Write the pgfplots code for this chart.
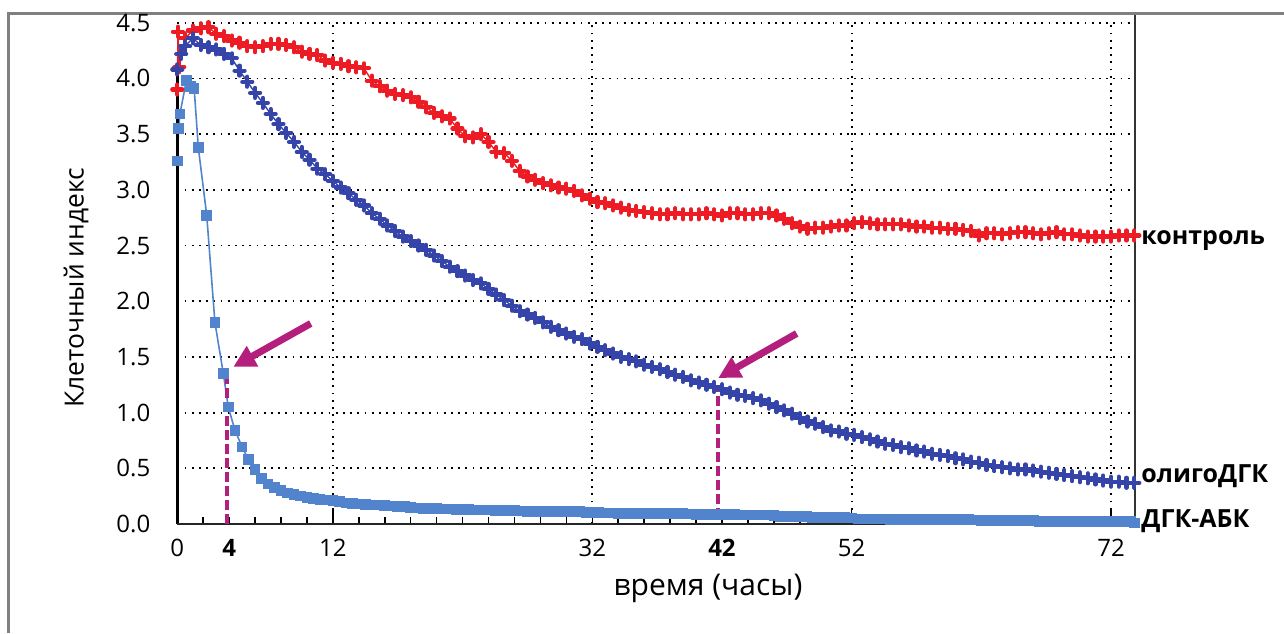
\documentclass[border=0pt]{standalone}
\usepackage{fontspec}
\setmainfont{Open Sans}
\usepackage{pgfplots}
\pgfplotsset{compat=1.18}
\usetikzlibrary{arrows.meta}

\definecolor{ctrl}{RGB}{237,28,36}
\definecolor{oligo}{RGB}{52,68,168}
\definecolor{dgk}{RGB}{82,132,206}
\definecolor{mag}{RGB}{180,30,125}
\definecolor{frame}{RGB}{128,128,128}

\begin{document}
\begin{tikzpicture}[x=1pt,y=1pt]
\useasboundingbox (0,0) rectangle (642,316.5);
% outer frame (cut at right and bottom)
\draw[frame, line width=1.2pt] (4.2,0) -- (4.2,309.8) -- (642,309.8);

\begin{axis}[
  at={(88.65pt,54.5pt)}, anchor=south west,
  scale only axis, width=478.85pt, height=250.65pt,
  xmin=0, xmax=73.85, ymin=0, ymax=4.5,
  clip=false,
  axis line style={draw=none},
  xtick={12,32,52,72},
  minor xtick={0,2,...,74},
  extra x ticks={0,4,42},
  extra x tick labels={0,\textbf{4},\textbf{42}},
  extra x tick style={grid=none, major tick length=0pt},
  ytick={0,0.5,...,4.5},
  /pgf/number format/assume math mode=true,
  tick label style={font=\fontsize{12}{14}\selectfont},
  yticklabel style={/pgf/number format/fixed, /pgf/number format/fixed zerofill,
    /pgf/number format/precision=1, xshift=-10pt},
  xticklabel style={yshift=-4pt},
  ytick style={draw=none},
  xtick style={black, line width=0.75pt},
  tick align=inside, xtick pos=bottom,
  major tick length=7.5pt, minor tick length=3.5pt,
  grid=major,
  major grid style={black, line width=0.9pt, dash pattern=on 0.9pt off 2.7pt},
]

% контроль
\addplot[ctrl, line width=0.7pt, mark=+, mark size=2.5pt,
  mark options={line width=2.1pt, line cap=round}] table {
0 3.9
0.05 4.42
0.15 4.10
0.6 4.36
1.2 4.43
1.8 4.45
2.4 4.46
3.0 4.40
3.6 4.38
4.2 4.34
4.8 4.32
5.4 4.29
6.0 4.28
6.6 4.29
7.2 4.31
7.8 4.31
8.4 4.30
9.0 4.28
9.6 4.24
10.2 4.22
10.8 4.21
11.4 4.16
12.0 4.14
12.6 4.13
13.2 4.11
13.8 4.10
14.4 4.09
15.0 3.98
15.6 3.93
16.2 3.89
16.8 3.86
17.4 3.85
18.0 3.83
18.6 3.79
19.2 3.74
19.8 3.69
20.4 3.66
21.0 3.64
21.6 3.55
22.2 3.48
22.8 3.47
23.4 3.50
24.0 3.43
24.6 3.34
25.2 3.33
25.8 3.26
26.4 3.17
27.0 3.12
27.6 3.09
28.2 3.06
28.8 3.04
29.4 3.02
30.0 3.01
30.6 2.99
31.2 2.95
31.8 2.92
32.4 2.89
33.0 2.88
33.6 2.86
34.2 2.84
34.8 2.82
35.4 2.81
36.0 2.80
36.6 2.79
37.2 2.78
37.8 2.78
38.4 2.79
39.0 2.78
39.6 2.78
40.2 2.78
40.8 2.79
41.4 2.78
42.0 2.77
42.6 2.79
43.2 2.79
43.8 2.78
44.4 2.78
45.0 2.79
45.6 2.79
46.2 2.77
46.8 2.74
47.4 2.70
48.0 2.67
48.6 2.65
49.2 2.66
49.8 2.66
50.4 2.67
51.0 2.68
51.6 2.68
52.2 2.70
52.8 2.71
53.4 2.70
54.0 2.69
54.6 2.69
55.2 2.69
55.8 2.69
56.4 2.68
57.0 2.67
57.6 2.67
58.2 2.66
58.8 2.66
59.4 2.65
60.0 2.65
60.6 2.64
61.2 2.63
61.8 2.59
62.4 2.61
63.0 2.61
63.6 2.60
64.2 2.61
64.8 2.62
65.4 2.62
66.0 2.61
66.6 2.60
67.2 2.61
67.8 2.62
68.4 2.60
69.0 2.60
69.6 2.59
70.2 2.58
70.8 2.58
71.4 2.58
72.0 2.58
72.6 2.59
73.2 2.59
73.8 2.59
};

% олигоДГК
\addplot[oligo, line width=0.7pt, mark=+, mark size=2.5pt,
  mark options={line width=2.1pt, line cap=round}] table {
0 4.08
0.3 4.22
0.6 4.29
1.2 4.36
1.8 4.30
2.4 4.28
3.0 4.26
3.6 4.22
4.2 4.18
4.8 4.07
5.4 3.97
6.0 3.87
6.6 3.78
7.2 3.68
7.8 3.59
8.4 3.51
9.0 3.43
9.6 3.34
10.2 3.27
10.8 3.19
11.4 3.14
12.0 3.08
12.6 3.02
13.2 2.97
13.8 2.91
14.4 2.86
15.0 2.79
15.6 2.74
16.2 2.68
16.8 2.63
17.4 2.58
18.0 2.54
18.6 2.50
19.2 2.46
19.8 2.41
20.4 2.36
21.0 2.31
21.6 2.27
22.2 2.23
22.8 2.19
23.4 2.16
24.0 2.11
24.6 2.06
25.2 2.01
25.8 1.96
26.4 1.91
27.0 1.88
27.6 1.85
28.2 1.81
28.8 1.77
29.4 1.74
30.0 1.71
30.6 1.68
31.2 1.66
31.8 1.62
32.4 1.59
33.0 1.56
33.6 1.53
34.2 1.50
34.8 1.48
35.4 1.46
36.0 1.43
36.6 1.41
37.2 1.39
37.8 1.365
38.4 1.34
39.0 1.32
39.6 1.29
40.2 1.27
40.8 1.25
41.4 1.23
42.0 1.21
42.6 1.18
43.2 1.16
43.8 1.15
44.4 1.13
45.0 1.11
45.6 1.08
46.2 1.05
46.8 1.02
47.4 0.99
48.0 0.95
48.6 0.92
49.2 0.90
49.8 0.87
50.4 0.84
51.0 0.83
51.6 0.81
52.2 0.80
52.8 0.78
53.4 0.76
54.0 0.74
54.6 0.72
55.2 0.71
55.8 0.69
56.4 0.68
57.0 0.66
57.6 0.65
58.2 0.63
58.8 0.62
59.4 0.61
60.0 0.59
60.6 0.58
61.2 0.56
61.8 0.55
62.4 0.53
63.0 0.52
63.6 0.51
64.2 0.50
64.8 0.49
65.4 0.49
66.0 0.48
66.6 0.47
67.2 0.46
67.8 0.45
68.4 0.44
69.0 0.43
69.6 0.42
70.2 0.41
70.8 0.40
71.4 0.39
72.0 0.38
72.6 0.38
73.2 0.37
73.8 0.37
};

% ДГК-АБК
\addplot[dgk, line width=0.8pt, mark=square*, mark size=2.4pt,
  mark options={draw=dgk, fill=dgk, line width=0pt}] table {
0 3.26
0.1 3.55
0.2 3.68
0.7 3.98
1.0 3.93
1.3 3.91
1.62 3.38
2.27 2.77
2.9 1.81
3.55 1.35
3.93 1.05
4.45 0.84
5.0 0.69
5.47 0.58
6.0 0.49
6.5 0.41
7.0 0.36
7.5 0.33
8.0 0.30
8.5 0.28
9.0 0.265
9.5 0.25
10.0 0.24
10.5 0.23
11.0 0.22
11.5 0.215
12.0 0.21
12.5 0.20
13.0 0.19
13.5 0.185
14.0 0.18
14.5 0.175
15.0 0.17
15.5 0.17
16.0 0.165
16.5 0.16
17.0 0.155
17.5 0.155
18.0 0.15
18.5 0.145
19.0 0.14
19.5 0.14
20.0 0.14
20.5 0.135
21.0 0.135
21.5 0.13
22.0 0.13
22.5 0.13
23.0 0.125
23.5 0.125
24.0 0.125
24.5 0.12
25.0 0.12
25.5 0.12
26.0 0.12
26.5 0.115
27.0 0.11
27.5 0.11
28.0 0.11
28.5 0.11
29.0 0.11
29.5 0.11
30.0 0.11
30.5 0.11
31.0 0.11
31.5 0.105
32.0 0.105
32.5 0.105
33.0 0.10
33.5 0.10
34.0 0.095
34.5 0.095
35.0 0.095
35.5 0.095
36.0 0.095
36.5 0.095
37.0 0.095
37.5 0.095
38.0 0.095
38.5 0.095
39.0 0.095
39.5 0.09
40.0 0.085
40.5 0.085
41.0 0.085
41.5 0.085
42.0 0.085
42.5 0.085
43.0 0.085
43.5 0.08
44.0 0.08
44.5 0.08
45.0 0.08
45.5 0.08
46.0 0.075
46.5 0.07
47.0 0.065
47.5 0.065
48.0 0.065
48.5 0.065
49.0 0.06
49.5 0.06
50.0 0.06
50.5 0.06
51.0 0.06
51.5 0.06
52.0 0.055
52.5 0.045
53.0 0.045
53.5 0.045
54.0 0.045
54.5 0.045
55.0 0.04
55.5 0.04
56.0 0.04
56.5 0.04
57.0 0.04
57.5 0.04
58.0 0.04
58.5 0.04
59.0 0.04
59.5 0.04
60.0 0.04
60.5 0.04
61.0 0.04
61.5 0.035
62.0 0.03
62.5 0.03
63.0 0.03
63.5 0.03
64.0 0.03
64.5 0.03
65.0 0.03
65.5 0.03
66.0 0.03
66.5 0.025
67.0 0.02
67.5 0.02
68.0 0.02
68.5 0.02
69.0 0.02
69.5 0.02
70.0 0.02
70.5 0.02
71.0 0.02
71.5 0.02
72.0 0.02
72.5 0.02
73.0 0.02
73.5 0.02
73.8 0.01
};

% axis lines
\draw[black, line width=1.2pt] (axis cs:0,0) -- (axis cs:0,4.1);
\draw[black!85, line width=1pt] (axis cs:0,0) -- (axis cs:73.85,0);
\draw[black!80, line width=1pt] (axis cs:73.85,0) -- (axis cs:73.85,4.57);

% markers at 4 h and 42 h
\draw[mag, line width=2pt, dash pattern=on 5pt off 2pt] (axis cs:3.8,0) -- (axis cs:3.8,1.33);
\draw[mag, line width=2pt, dash pattern=on 5pt off 2pt] (axis cs:41.7,0.05) -- (axis cs:41.7,1.24);
\draw[mag, line width=3.5pt, -{Triangle[length=11pt,width=11pt]}] (axis cs:10.29,1.80) -- (axis cs:4.32,1.41);
\draw[mag, line width=3.5pt, -{Triangle[length=11pt,width=11pt]}] (axis cs:47.76,1.71) -- (axis cs:41.71,1.31);
\end{axis}

% axis titles
\node[rotate=90, font=\fontsize{13.2}{15}\selectfont] at (38,172.5) {Клеточный индекс};
\node[font=\fontsize{15}{17}\selectfont] at (354,22.5) {время (часы)};

% series names
\node[anchor=base west, inner sep=0pt, font=\fontsize{12.5}{14}\selectfont\bfseries] at (570.5,194) {контроль};
\node[anchor=base west, inner sep=0pt, font=\fontsize{12.5}{14}\selectfont\bfseries] at (570.5,75.5) {олигоДГК};
\node[anchor=base west, inner sep=0pt, font=\fontsize{12.5}{14}\selectfont\bfseries] at (570.5,53) {ДГК-АБК};
\end{tikzpicture}
\end{document}
